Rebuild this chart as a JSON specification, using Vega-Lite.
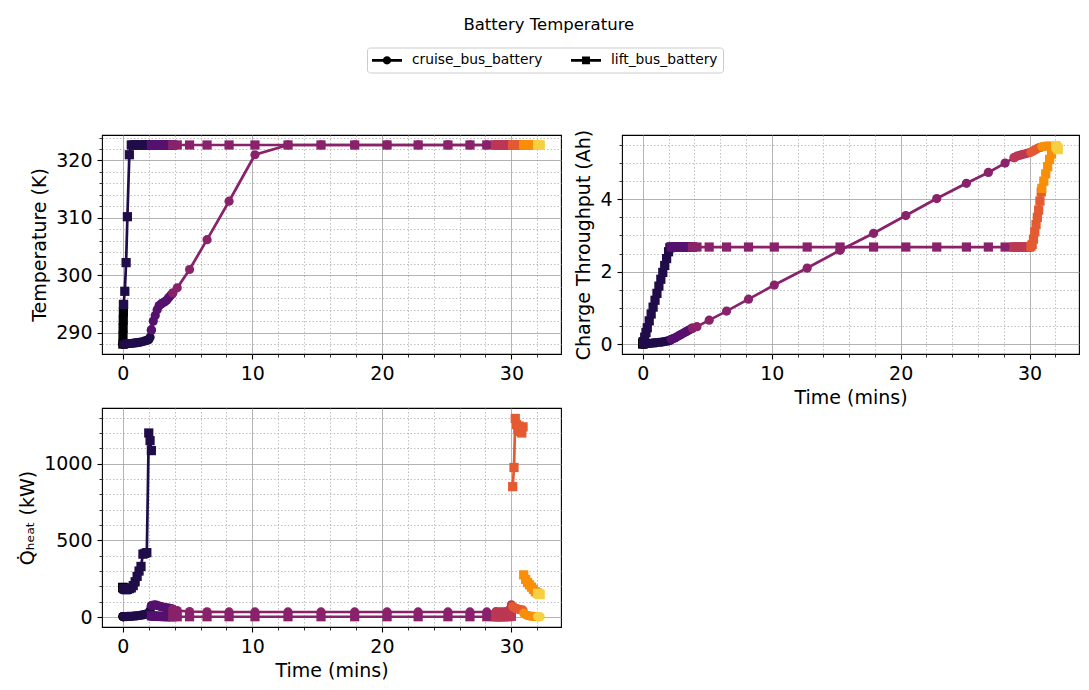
{
  "$schema": "https://vega.github.io/schema/vega-lite/v6.json",
  "background": "white",
  "padding": {"left": 18, "top": 17, "right": 5, "bottom": 5},
  "title": {"text": "Battery Temperature", "anchor": "middle", "frame": "bounds", "fontSize": 16.5, "fontWeight": "normal", "font": "DejaVu Sans", "color": "black", "offset": 12.5},
  "data": {"values": [
    {"b":"cruise_bus_battery","p":0,"t":0,"T":288.0,"Q":0,"H":3},
    {"b":"lift_bus_battery","p":0,"t":0,"T":288.0,"Q":0,"H":193},
    {"b":"cruise_bus_battery","p":0,"t":0.01,"T":288.0,"Q":0,"H":3},
    {"b":"lift_bus_battery","p":0,"t":0.01,"T":289.4,"Q":0.01,"H":193},
    {"b":"cruise_bus_battery","p":0,"t":0.02,"T":288.0,"Q":0,"H":3},
    {"b":"lift_bus_battery","p":0,"t":0.02,"T":290.8,"Q":0.02,"H":192},
    {"b":"cruise_bus_battery","p":0,"t":0.03,"T":288.0,"Q":0,"H":3},
    {"b":"lift_bus_battery","p":0,"t":0.03,"T":292.2,"Q":0.03,"H":192},
    {"b":"cruise_bus_battery","p":0,"t":0.04,"T":288.0,"Q":0,"H":3},
    {"b":"lift_bus_battery","p":0,"t":0.04,"T":293.6,"Q":0.04,"H":191},
    {"b":"cruise_bus_battery","p":0,"t":0.05,"T":288.0,"Q":0,"H":3},
    {"b":"lift_bus_battery","p":0,"t":0.05,"T":294.9,"Q":0.06,"H":190},

    {"b":"cruise_bus_battery","p":1,"t":0.05,"T":288.0,"Q":0.0,"H":3},
    {"b":"lift_bus_battery","p":1,"t":0.05,"T":294.9,"Q":0.06,"H":185},
    {"b":"cruise_bus_battery","p":1,"t":0.15,"T":288.0,"Q":0.0,"H":3},
    {"b":"lift_bus_battery","p":1,"t":0.15,"T":297.2,"Q":0.19,"H":180},
    {"b":"cruise_bus_battery","p":1,"t":0.25,"T":288.0,"Q":0.01,"H":3},
    {"b":"lift_bus_battery","p":1,"t":0.25,"T":302.2,"Q":0.32,"H":178},
    {"b":"cruise_bus_battery","p":1,"t":0.35,"T":288.05,"Q":0.01,"H":4},
    {"b":"lift_bus_battery","p":1,"t":0.35,"T":310.2,"Q":0.45,"H":180},
    {"b":"cruise_bus_battery","p":1,"t":0.5,"T":288.1,"Q":0.02,"H":4},
    {"b":"lift_bus_battery","p":1,"t":0.5,"T":321.0,"Q":0.64,"H":185},
    {"b":"cruise_bus_battery","p":1,"t":0.65,"T":288.1,"Q":0.02,"H":5},
    {"b":"lift_bus_battery","p":1,"t":0.65,"T":322.7,"Q":0.83,"H":190},
    {"b":"cruise_bus_battery","p":1,"t":0.8,"T":288.15,"Q":0.03,"H":6},
    {"b":"lift_bus_battery","p":1,"t":0.8,"T":322.7,"Q":1.02,"H":205},
    {"b":"cruise_bus_battery","p":1,"t":0.95,"T":288.2,"Q":0.03,"H":7},
    {"b":"lift_bus_battery","p":1,"t":0.95,"T":322.7,"Q":1.21,"H":230},
    {"b":"cruise_bus_battery","p":1,"t":1.1,"T":288.25,"Q":0.04,"H":8},
    {"b":"lift_bus_battery","p":1,"t":1.1,"T":322.7,"Q":1.40,"H":265},
    {"b":"cruise_bus_battery","p":1,"t":1.25,"T":288.3,"Q":0.05,"H":10},
    {"b":"lift_bus_battery","p":1,"t":1.25,"T":322.7,"Q":1.60,"H":300},
    {"b":"cruise_bus_battery","p":1,"t":1.4,"T":288.35,"Q":0.05,"H":12},
    {"b":"lift_bus_battery","p":1,"t":1.4,"T":322.7,"Q":1.79,"H":330},
    {"b":"cruise_bus_battery","p":1,"t":1.55,"T":288.45,"Q":0.06,"H":14},
    {"b":"lift_bus_battery","p":1,"t":1.55,"T":322.7,"Q":1.98,"H":410},
    {"b":"cruise_bus_battery","p":1,"t":1.7,"T":288.55,"Q":0.07,"H":17},
    {"b":"lift_bus_battery","p":1,"t":1.7,"T":322.7,"Q":2.17,"H":415},
    {"b":"cruise_bus_battery","p":1,"t":1.85,"T":288.65,"Q":0.08,"H":20},
    {"b":"lift_bus_battery","p":1,"t":1.85,"T":322.7,"Q":2.36,"H":420},
    {"b":"cruise_bus_battery","p":1,"t":2.0,"T":288.75,"Q":0.09,"H":25},
    {"b":"lift_bus_battery","p":1,"t":2.0,"T":322.7,"Q":2.55,"H":1200},
    {"b":"cruise_bus_battery","p":1,"t":2.1,"T":289.2,"Q":0.10,"H":45},
    {"b":"lift_bus_battery","p":1,"t":2.1,"T":322.7,"Q":2.66,"H":1150},
    {"b":"cruise_bus_battery","p":1,"t":2.2,"T":290.4,"Q":0.12,"H":70},
    {"b":"lift_bus_battery","p":1,"t":2.2,"T":322.7,"Q":2.68,"H":1085},

    {"b":"cruise_bus_battery","p":2,"t":2.2,"T":290.5,"Q":0.13,"H":75},
    {"b":"lift_bus_battery","p":2,"t":2.2,"T":322.7,"Q":2.68,"H":8},
    {"b":"cruise_bus_battery","p":2,"t":2.35,"T":292.0,"Q":0.15,"H":78},
    {"b":"lift_bus_battery","p":2,"t":2.35,"T":322.7,"Q":2.68,"H":6},
    {"b":"cruise_bus_battery","p":2,"t":2.5,"T":293.0,"Q":0.17,"H":80},
    {"b":"lift_bus_battery","p":2,"t":2.5,"T":322.7,"Q":2.68,"H":5},
    {"b":"cruise_bus_battery","p":2,"t":2.65,"T":294.0,"Q":0.20,"H":76},
    {"b":"lift_bus_battery","p":2,"t":2.65,"T":322.7,"Q":2.68,"H":5},
    {"b":"cruise_bus_battery","p":2,"t":2.8,"T":294.7,"Q":0.23,"H":72},
    {"b":"lift_bus_battery","p":2,"t":2.8,"T":322.7,"Q":2.68,"H":4},
    {"b":"cruise_bus_battery","p":2,"t":2.95,"T":295.0,"Q":0.26,"H":68},
    {"b":"lift_bus_battery","p":2,"t":2.95,"T":322.7,"Q":2.68,"H":4},
    {"b":"cruise_bus_battery","p":2,"t":3.1,"T":295.2,"Q":0.29,"H":65},
    {"b":"lift_bus_battery","p":2,"t":3.1,"T":322.7,"Q":2.68,"H":4},
    {"b":"cruise_bus_battery","p":2,"t":3.25,"T":295.4,"Q":0.32,"H":62},
    {"b":"lift_bus_battery","p":2,"t":3.25,"T":322.7,"Q":2.68,"H":3},
    {"b":"cruise_bus_battery","p":2,"t":3.4,"T":295.7,"Q":0.35,"H":60},
    {"b":"lift_bus_battery","p":2,"t":3.4,"T":322.7,"Q":2.68,"H":3},
    {"b":"cruise_bus_battery","p":2,"t":3.55,"T":296.1,"Q":0.38,"H":58},
    {"b":"lift_bus_battery","p":2,"t":3.55,"T":322.7,"Q":2.68,"H":3},
    {"b":"cruise_bus_battery","p":2,"t":3.7,"T":296.5,"Q":0.41,"H":55},
    {"b":"lift_bus_battery","p":2,"t":3.7,"T":322.7,"Q":2.68,"H":3},
    {"b":"cruise_bus_battery","p":2,"t":3.85,"T":296.9,"Q":0.44,"H":52},
    {"b":"lift_bus_battery","p":2,"t":3.85,"T":322.7,"Q":2.68,"H":3},

    {"b":"cruise_bus_battery","p":3,"t":3.85,"T":296.9,"Q":0.44,"H":50},
    {"b":"lift_bus_battery","p":3,"t":3.85,"T":322.7,"Q":2.68,"H":3},
    {"b":"cruise_bus_battery","p":3,"t":4.2,"T":297.8,"Q":0.48,"H":42},
    {"b":"lift_bus_battery","p":3,"t":4.2,"T":322.7,"Q":2.68,"H":2},
    {"b":"cruise_bus_battery","p":3,"t":5.15,"T":301.0,"Q":0.66,"H":36},
    {"b":"lift_bus_battery","p":3,"t":5.15,"T":322.7,"Q":2.68,"H":2},
    {"b":"cruise_bus_battery","p":3,"t":6.5,"T":306.2,"Q":0.91,"H":34},
    {"b":"lift_bus_battery","p":3,"t":6.5,"T":322.7,"Q":2.68,"H":2},
    {"b":"cruise_bus_battery","p":3,"t":8.2,"T":312.9,"Q":1.24,"H":33},
    {"b":"lift_bus_battery","p":3,"t":8.2,"T":322.7,"Q":2.68,"H":2},
    {"b":"cruise_bus_battery","p":3,"t":10.2,"T":321.0,"Q":1.63,"H":33},
    {"b":"lift_bus_battery","p":3,"t":10.2,"T":322.7,"Q":2.68,"H":2},
    {"b":"cruise_bus_battery","p":3,"t":12.75,"T":322.7,"Q":2.10,"H":33},
    {"b":"lift_bus_battery","p":3,"t":12.75,"T":322.7,"Q":2.68,"H":2},
    {"b":"cruise_bus_battery","p":3,"t":15.3,"T":322.7,"Q":2.59,"H":33},
    {"b":"lift_bus_battery","p":3,"t":15.3,"T":322.7,"Q":2.68,"H":2},
    {"b":"cruise_bus_battery","p":3,"t":17.9,"T":322.7,"Q":3.06,"H":33},
    {"b":"lift_bus_battery","p":3,"t":17.9,"T":322.7,"Q":2.68,"H":2},
    {"b":"cruise_bus_battery","p":3,"t":20.4,"T":322.7,"Q":3.55,"H":33},
    {"b":"lift_bus_battery","p":3,"t":20.4,"T":322.7,"Q":2.68,"H":2},
    {"b":"cruise_bus_battery","p":3,"t":22.8,"T":322.7,"Q":4.02,"H":33},
    {"b":"lift_bus_battery","p":3,"t":22.8,"T":322.7,"Q":2.68,"H":2},
    {"b":"cruise_bus_battery","p":3,"t":25.1,"T":322.7,"Q":4.44,"H":33},
    {"b":"lift_bus_battery","p":3,"t":25.1,"T":322.7,"Q":2.68,"H":2},
    {"b":"cruise_bus_battery","p":3,"t":26.8,"T":322.7,"Q":4.74,"H":33},
    {"b":"lift_bus_battery","p":3,"t":26.8,"T":322.7,"Q":2.68,"H":2},
    {"b":"cruise_bus_battery","p":3,"t":28.1,"T":322.7,"Q":5.00,"H":33},
    {"b":"lift_bus_battery","p":3,"t":28.1,"T":322.7,"Q":2.68,"H":2},
    {"b":"cruise_bus_battery","p":3,"t":28.8,"T":322.7,"Q":5.15,"H":33},
    {"b":"lift_bus_battery","p":3,"t":28.8,"T":322.7,"Q":2.68,"H":2},

    {"b":"cruise_bus_battery","p":4,"t":28.8,"T":322.7,"Q":5.15,"H":33},
    {"b":"lift_bus_battery","p":4,"t":28.8,"T":322.7,"Q":2.68,"H":2},
    {"b":"cruise_bus_battery","p":4,"t":29.0,"T":322.7,"Q":5.19,"H":33},
    {"b":"lift_bus_battery","p":4,"t":29.0,"T":322.7,"Q":2.68,"H":2},
    {"b":"cruise_bus_battery","p":4,"t":29.2,"T":322.7,"Q":5.21,"H":34},
    {"b":"lift_bus_battery","p":4,"t":29.2,"T":322.7,"Q":2.68,"H":2},
    {"b":"cruise_bus_battery","p":4,"t":29.4,"T":322.7,"Q":5.23,"H":34},
    {"b":"lift_bus_battery","p":4,"t":29.4,"T":322.7,"Q":2.68,"H":2},
    {"b":"cruise_bus_battery","p":4,"t":29.6,"T":322.7,"Q":5.25,"H":35},
    {"b":"lift_bus_battery","p":4,"t":29.6,"T":322.7,"Q":2.68,"H":2},
    {"b":"cruise_bus_battery","p":4,"t":29.8,"T":322.7,"Q":5.27,"H":45},
    {"b":"lift_bus_battery","p":4,"t":29.8,"T":322.7,"Q":2.68,"H":3},
    {"b":"cruise_bus_battery","p":4,"t":30.0,"T":322.7,"Q":5.29,"H":80},
    {"b":"lift_bus_battery","p":4,"t":30.0,"T":322.7,"Q":2.68,"H":5},

    {"b":"cruise_bus_battery","p":5,"t":30.1,"T":322.7,"Q":5.30,"H":68},
    {"b":"lift_bus_battery","p":5,"t":30.1,"T":322.7,"Q":2.70,"H":850},
    {"b":"cruise_bus_battery","p":5,"t":30.2,"T":322.7,"Q":5.32,"H":62},
    {"b":"lift_bus_battery","p":5,"t":30.2,"T":322.7,"Q":2.75,"H":975},
    {"b":"cruise_bus_battery","p":5,"t":30.3,"T":322.7,"Q":5.34,"H":58},
    {"b":"lift_bus_battery","p":5,"t":30.3,"T":322.7,"Q":2.90,"H":1295},
    {"b":"cruise_bus_battery","p":5,"t":30.4,"T":322.7,"Q":5.36,"H":55},
    {"b":"lift_bus_battery","p":5,"t":30.4,"T":322.7,"Q":3.10,"H":1255},
    {"b":"cruise_bus_battery","p":5,"t":30.5,"T":322.7,"Q":5.38,"H":52},
    {"b":"lift_bus_battery","p":5,"t":30.5,"T":322.7,"Q":3.30,"H":1225},
    {"b":"cruise_bus_battery","p":5,"t":30.6,"T":322.7,"Q":5.40,"H":50},
    {"b":"lift_bus_battery","p":5,"t":30.6,"T":322.7,"Q":3.50,"H":1245},
    {"b":"cruise_bus_battery","p":5,"t":30.7,"T":322.7,"Q":5.42,"H":48},
    {"b":"lift_bus_battery","p":5,"t":30.7,"T":322.7,"Q":3.70,"H":1210},
    {"b":"cruise_bus_battery","p":5,"t":30.8,"T":322.7,"Q":5.43,"H":46},
    {"b":"lift_bus_battery","p":5,"t":30.8,"T":322.7,"Q":3.95,"H":1200},
    {"b":"cruise_bus_battery","p":5,"t":30.9,"T":322.7,"Q":5.44,"H":45},
    {"b":"lift_bus_battery","p":5,"t":30.9,"T":322.7,"Q":4.20,"H":1240},

    {"b":"cruise_bus_battery","p":6,"t":30.95,"T":322.7,"Q":5.45,"H":25},
    {"b":"lift_bus_battery","p":6,"t":30.95,"T":322.7,"Q":4.30,"H":275},
    {"b":"cruise_bus_battery","p":6,"t":31.1,"T":322.7,"Q":5.46,"H":15},
    {"b":"lift_bus_battery","p":6,"t":31.1,"T":322.7,"Q":4.50,"H":245},
    {"b":"cruise_bus_battery","p":6,"t":31.25,"T":322.7,"Q":5.47,"H":10},
    {"b":"lift_bus_battery","p":6,"t":31.25,"T":322.7,"Q":4.70,"H":225},
    {"b":"cruise_bus_battery","p":6,"t":31.4,"T":322.7,"Q":5.47,"H":7},
    {"b":"lift_bus_battery","p":6,"t":31.4,"T":322.7,"Q":4.90,"H":210},
    {"b":"cruise_bus_battery","p":6,"t":31.55,"T":322.7,"Q":5.47,"H":5},
    {"b":"lift_bus_battery","p":6,"t":31.55,"T":322.7,"Q":5.10,"H":195},
    {"b":"cruise_bus_battery","p":6,"t":31.7,"T":322.7,"Q":5.47,"H":4},
    {"b":"lift_bus_battery","p":6,"t":31.7,"T":322.7,"Q":5.25,"H":180},
    {"b":"cruise_bus_battery","p":6,"t":31.85,"T":322.7,"Q":5.47,"H":3},
    {"b":"lift_bus_battery","p":6,"t":31.85,"T":322.7,"Q":5.38,"H":165},
    {"b":"cruise_bus_battery","p":6,"t":32.0,"T":322.7,"Q":5.47,"H":3},
    {"b":"lift_bus_battery","p":6,"t":32.0,"T":322.7,"Q":5.45,"H":158},

    {"b":"cruise_bus_battery","p":7,"t":32.03,"T":322.7,"Q":5.47,"H":3},
    {"b":"lift_bus_battery","p":7,"t":32.03,"T":322.7,"Q":5.48,"H":155},
    {"b":"cruise_bus_battery","p":7,"t":32.08,"T":322.7,"Q":5.46,"H":3},
    {"b":"lift_bus_battery","p":7,"t":32.08,"T":322.7,"Q":5.46,"H":152},
    {"b":"cruise_bus_battery","p":7,"t":32.13,"T":322.7,"Q":5.45,"H":2},
    {"b":"lift_bus_battery","p":7,"t":32.13,"T":322.7,"Q":5.43,"H":150},
    {"b":"cruise_bus_battery","p":7,"t":32.18,"T":322.7,"Q":5.44,"H":2},
    {"b":"lift_bus_battery","p":7,"t":32.18,"T":322.7,"Q":5.40,"H":148},
    {"b":"cruise_bus_battery","p":7,"t":32.22,"T":322.7,"Q":5.43,"H":2},
    {"b":"lift_bus_battery","p":7,"t":32.22,"T":322.7,"Q":5.37,"H":146}
  ]},
  "columns": 2,
  "bounds": "flush",
  "spacing": {"row": 54, "column": 61},
  "resolve": {"scale": {"shape": "independent"}, "legend": {"shape": "independent"}},
  "concat": [
    {
      "width": 459, "height": 219,
      "layer": [
        {"mark": {"type": "line", "strokeWidth": 2.7},
         "encoding": {
           "x": {"field": "t", "type": "quantitative", "scale": {"domain": [-1.611, 33.83], "nice": false, "zero": false},
                 "axis": {"orient": "bottom", "values": [0, 10, 20, 30], "grid": true, "gridColor": "#a0a0a0", "gridWidth": 0.8, "tickSize": 5, "tickWidth": 1.1, "labelPadding": 5, "title": null}},
           "y": {"field": "T", "type": "quantitative", "scale": {"domain": [286.27, 324.44], "nice": false, "zero": false},
                 "axis": {"orient": "left", "values": [290, 300, 310, 320], "grid": true, "gridColor": "#a0a0a0", "gridWidth": 0.8, "tickSize": 5, "tickWidth": 1.1, "labelPadding": 5, "title": "Temperature (K)", "titlePadding": 6}},
           "color": {"field": "p", "type": "ordinal", "scale": {"domain": [0,1,2,3,4,5,6,7], "range": ["#000004","#1f0c48","#56106e","#89226a","#bc3754","#e45a31","#f98e09","#f6d043"]}, "legend": null},
           "detail": {"field": "b"}
         }},
        {"mark": {"type": "point", "filled": true, "opacity": 1, "size": 85},
         "encoding": {
           "x": {"field": "t", "type": "quantitative",
                 "axis": {"orient": "bottom", "values": [2,4,6,8,12,14,16,18,22,24,26,28,32], "grid": true, "gridColor": "#b0b0b0", "gridDash": [1.5, 2], "gridWidth": 0.8, "tickSize": 3, "tickWidth": 0.8, "labels": false, "title": null}},
           "y": {"field": "T", "type": "quantitative",
                 "axis": {"orient": "left", "values": [288,292,294,296,298,302,304,306,308,312,314,316,318,322,324], "grid": true, "gridColor": "#b0b0b0", "gridDash": [1.5, 2], "gridWidth": 0.8, "tickSize": 3, "tickWidth": 0.8, "labels": false, "title": null}},
           "color": {"field": "p", "type": "ordinal", "legend": null},
           "shape": {"field": "b", "type": "nominal", "scale": {"domain": ["cruise_bus_battery", "lift_bus_battery"], "range": ["circle", "square"]}, "legend": null}
         }},
        {"mark": {"type": "point", "filled": true, "opacity": 0, "color": "black"},
         "encoding": {
           "x": {"field": "t", "type": "quantitative", "axis": null},
           "y": {"field": "T", "type": "quantitative", "axis": null},
           "shape": {"field": "b", "type": "nominal",
                     "scale": {"domain": ["cruise_bus_battery", "lift_bus_battery"], "range": ["M-2,-0.18H2V0.18H-2Z M0.56,0A0.56,0.56,0,1,1,-0.56,0A0.56,0.56,0,1,1,0.56,0Z", "M-2,-0.18H2V0.18H-2Z M-0.53,-0.53H0.53V0.53H-0.53Z"]},
                     "legend": {"title": null, "orient": "none", "legendX": 265, "legendY": -87.5, "direction": "horizontal", "columns": 2, "symbolSize": 225, "symbolOffset": 7.5, "symbolOpacity": 1, "symbolFillColor": "black", "symbolStrokeWidth": 0, "labelFont": "DejaVu Sans", "labelFontSize": 13.8, "labelColor": "black", "labelOffset": 17.5, "columnPadding": 28, "strokeColor": "#cccccc", "fillColor": "white", "padding": 5, "cornerRadius": 3}}
         }}
      ],
      "resolve": {"axis": {"x": "independent", "y": "independent"}, "scale": {"shape": "independent"}, "legend": {"shape": "independent"}}
    },
    {
      "width": 457, "height": 219,
      "layer": [
        {"mark": {"type": "line", "strokeWidth": 2.7},
         "encoding": {
           "x": {"field": "t", "type": "quantitative", "scale": {"domain": [-1.611, 33.83], "nice": false, "zero": false},
                 "axis": {"orient": "bottom", "values": [0, 10, 20, 30], "grid": true, "gridColor": "#a0a0a0", "gridWidth": 0.8, "tickSize": 5, "tickWidth": 1.1, "labelPadding": 5, "title": "Time (mins)", "titlePadding": 5}},
           "y": {"field": "Q", "type": "quantitative", "scale": {"domain": [-0.275, 5.775], "nice": false, "zero": false},
                 "axis": {"orient": "left", "values": [0, 2, 4], "grid": true, "gridColor": "#a0a0a0", "gridWidth": 0.8, "tickSize": 5, "tickWidth": 1.1, "labelPadding": 5, "title": "Charge Throughput (Ah)", "titlePadding": 6}},
           "color": {"field": "p", "type": "ordinal", "scale": {"domain": [0,1,2,3,4,5,6,7], "range": ["#000004","#1f0c48","#56106e","#89226a","#bc3754","#e45a31","#f98e09","#f6d043"]}, "legend": null},
           "detail": {"field": "b"}
         }},
        {"mark": {"type": "point", "filled": true, "opacity": 1, "size": 85},
         "encoding": {
           "x": {"field": "t", "type": "quantitative",
                 "axis": {"orient": "bottom", "values": [2,4,6,8,12,14,16,18,22,24,26,28,32], "grid": true, "gridColor": "#b0b0b0", "gridDash": [1.5, 2], "gridWidth": 0.8, "tickSize": 3, "tickWidth": 0.8, "labels": false, "title": null}},
           "y": {"field": "Q", "type": "quantitative",
                 "axis": {"orient": "left", "values": [0.5,1,1.5,2.5,3,3.5,4.5,5,5.5], "grid": true, "gridColor": "#b0b0b0", "gridDash": [1.5, 2], "gridWidth": 0.8, "tickSize": 3, "tickWidth": 0.8, "labels": false, "title": null}},
           "color": {"field": "p", "type": "ordinal", "legend": null},
           "shape": {"field": "b", "type": "nominal", "scale": {"domain": ["cruise_bus_battery", "lift_bus_battery"], "range": ["circle", "square"]}, "legend": null}
         }}
      ],
      "resolve": {"axis": {"x": "independent", "y": "independent"}}
    },
    {
      "width": 459, "height": 219,
      "layer": [
        {"mark": {"type": "line", "strokeWidth": 2.7},
         "encoding": {
           "x": {"field": "t", "type": "quantitative", "scale": {"domain": [-1.611, 33.83], "nice": false, "zero": false},
                 "axis": {"orient": "bottom", "values": [0, 10, 20, 30], "grid": true, "gridColor": "#a0a0a0", "gridWidth": 0.8, "tickSize": 5, "tickWidth": 1.1, "labelPadding": 5, "title": "Time (mins)", "titlePadding": 5}},
           "y": {"field": "H", "type": "quantitative", "scale": {"domain": [-64.9, 1362.9], "nice": false, "zero": false},
                 "axis": {"orient": "left", "values": [0, 500, 1000], "format": "d", "grid": true, "gridColor": "#a0a0a0", "gridWidth": 0.8, "tickSize": 5, "tickWidth": 1.1, "labelPadding": 5, "title": "Q\u0307\u2095\u2091\u2090\u209c (kW)", "titlePadding": 6}},
           "color": {"field": "p", "type": "ordinal", "scale": {"domain": [0,1,2,3,4,5,6,7], "range": ["#000004","#1f0c48","#56106e","#89226a","#bc3754","#e45a31","#f98e09","#f6d043"]}, "legend": null},
           "detail": {"field": "b"}
         }},
        {"mark": {"type": "point", "filled": true, "opacity": 1, "size": 85},
         "encoding": {
           "x": {"field": "t", "type": "quantitative",
                 "axis": {"orient": "bottom", "values": [2,4,6,8,12,14,16,18,22,24,26,28,32], "grid": true, "gridColor": "#b0b0b0", "gridDash": [1.5, 2], "gridWidth": 0.8, "tickSize": 3, "tickWidth": 0.8, "labels": false, "title": null}},
           "y": {"field": "H", "type": "quantitative",
                 "axis": {"orient": "left", "values": [100,200,300,400,600,700,800,900,1100,1200,1300], "grid": true, "gridColor": "#b0b0b0", "gridDash": [1.5, 2], "gridWidth": 0.8, "tickSize": 3, "tickWidth": 0.8, "labels": false, "title": null}},
           "color": {"field": "p", "type": "ordinal", "legend": null},
           "shape": {"field": "b", "type": "nominal", "scale": {"domain": ["cruise_bus_battery", "lift_bus_battery"], "range": ["circle", "square"]}, "legend": null}
         }}
      ],
      "resolve": {"axis": {"x": "independent", "y": "independent"}}
    }
  ],
  "config": {
    "font": "DejaVu Sans",
    "view": {"stroke": "black", "strokeWidth": 1.1},
    "axis": {"labelFont": "DejaVu Sans", "labelFontSize": 19, "labelColor": "black", "titleFont": "DejaVu Sans", "titleFontSize": 19, "titleFontWeight": "normal", "titleColor": "black", "tickColor": "black", "domain": false, "labelFlush": false, "labelOverlap": false, "labelBound": false}
  }
}
